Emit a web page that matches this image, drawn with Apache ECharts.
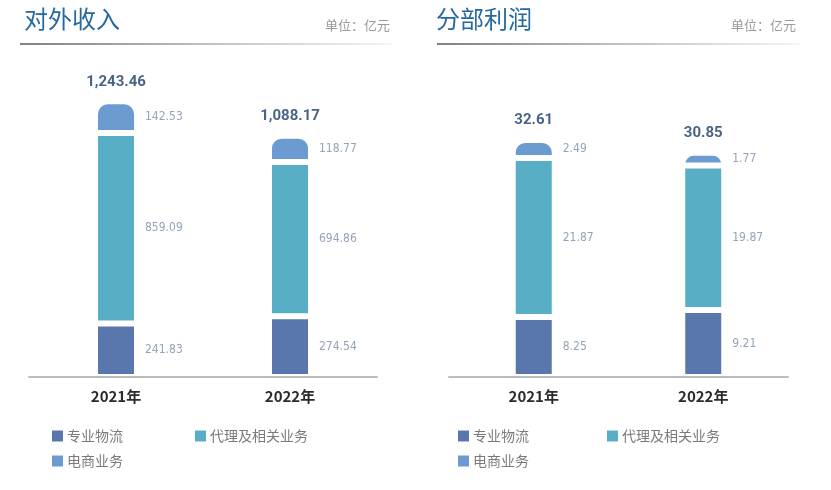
<!DOCTYPE html>
<html><head><meta charset="utf-8">
<script src="https://cdn.jsdelivr.net/npm/echarts@6/dist/echarts.min.js"></script>
<style>html,body{margin:0;padding:0;background:#fff}#c{width:831px;height:490px}</style>
</head><body><div id="c"></div>
<script>
const categories = ['2021年', '2022年'];
const seriesNames = ['专业物流', '代理及相关业务', '电商业务'];
// 对外收入 (亿元)
const revLogistics = [241.83, 274.54];
const revAgency = [859.09, 694.86];
const revEcom = [142.53, 118.77];
const revTotal = [1243.46, 1088.17];
// 分部利润 (亿元)
const profLogistics = [8.25, 9.21];
const profAgency = [21.87, 19.87];
const profEcom = [2.49, 1.77];
const profTotal = [32.61, 30.85];
const titles = ['对外收入', '分部利润'];
const unitText = '单位：亿元';

const colors = ['#5a77ad', '#58aec5', '#6c9bd1'];
const numFont = "'Liberation Sans Narrow','DejaVu Sans Condensed','Roboto',sans-serif";
const cjk = "'Noto Sans CJK SC','Noto Sans',sans-serif";

function fmt(v, d) {
  return v.toLocaleString('en-US', {minimumFractionDigits: d, maximumFractionDigits: d});
}

function barSeries(name, data, idx, stack, colorIdx, top) {
  return {
    type: 'bar', name: name, data: data, stack: stack,
    xAxisIndex: idx, yAxisIndex: idx, barWidth: 42,
    itemStyle: {color: colors[colorIdx], borderColor: '#fff', borderWidth: 3,
      borderRadius: top ? [11, 11, 0, 0] : 0},
    label: {show: true, position: 'right', distance: 8, color: '#93a4ba',
      fontFamily: numFont, fontSize: 12, fontWeight: 300, formatter: p => fmt(p.value, 2)},
    emphasis: {disabled: true}
  };
}
function totalSeries(data, idx) {
  return {
    type: 'scatter', data: data, xAxisIndex: idx, yAxisIndex: idx,
    symbolSize: 0, silent: true,
    label: {show: true, position: 'top', distance: 12, color: '#1c3c68',
      fontWeight: 'bold', fontSize: 15, fontFamily: "'Roboto','Noto Sans',sans-serif",
      formatter: p => fmt(p.value, 2)}
  };
}
function axisX(idx) {
  return {type: 'category', gridIndex: idx, data: categories, z: 10,
    axisLine: {lineStyle: {color: '#bdbdbd', width: 2}},
    axisTick: {show: false},
    axisLabel: {color: '#2b2b2b', fontWeight: 'bold', fontSize: 15, margin: 12,
      fontFamily: cjk}};
}
function axisY(idx, max) {
  return {type: 'value', gridIndex: idx, min: 0, max: max, show: false,
    splitLine: {show: false}};
}
function legendItem(name, left, top) {
  return {data: [name], left: left, top: top, padding: 0, icon: 'rect', itemWidth: 11, itemHeight: 11,
    itemGap: 6, itemStyle: {borderWidth: 0, borderRadius: 0},
    textStyle: {color: '#7a7a7a', fontSize: 14, fontFamily: cjk, padding: [0, 0, 0, -1]},
    selectedMode: false};
}
function underline(x1, x2) {
  return {type: 'line', shape: {x1: x1, y1: 44, x2: x2, y2: 44},
    style: {lineWidth: 1.5, stroke: new echarts.graphic.LinearGradient(0, 0, 1, 0,
      [{offset: 0, color: '#555'}, {offset: 0.5, color: '#aaa'}, {offset: 1, color: '#f2f2f2'}])}};
}

const chart = echarts.init(document.getElementById('c'), null, {renderer: 'canvas'});
chart.setOption({
  animation: false,
  backgroundColor: '#fff',
  title: [
    {text: titles[0], left: 24, top: 7, padding: 0, textStyle: {color: '#2569a0', fontSize: 24, fontWeight: 'normal', fontFamily: cjk}},
    {text: unitText, right: 441, top: 19, padding: 0, textStyle: {color: '#9a9a9a', fontSize: 13, fontWeight: 'normal', fontFamily: cjk}},
    {text: titles[1], left: 436, top: 7, padding: 0, textStyle: {color: '#2569a0', fontSize: 24, fontWeight: 'normal', fontFamily: cjk}},
    {text: unitText, right: 35, top: 19, padding: 0, textStyle: {color: '#9a9a9a', fontSize: 13, fontWeight: 'normal', fontFamily: cjk}}
  ],
  graphic: [underline(20, 392), underline(437, 800)],
  legend: [
    legendItem(seriesNames[0], 52, 429),
    legendItem(seriesNames[1], 195, 429),
    legendItem(seriesNames[2], 52, 454),
    legendItem(seriesNames[0], 458, 429),
    legendItem(seriesNames[1], 607, 429),
    legendItem(seriesNames[2], 458, 454)
  ],
  grid: [
    {left: 29, right: 831 - 377, top: 60, bottom: 113},
    {left: 449, right: 831 - 788, top: 60, bottom: 113}
  ],
  xAxis: [axisX(0), axisX(1)],
  yAxis: [axisY(0, 1430), axisY(1, 43.6)],
  series: [
    barSeries(seriesNames[0], revLogistics, 0, 'a', 0, false),
    barSeries(seriesNames[1], revAgency, 0, 'a', 1, false),
    barSeries(seriesNames[2], revEcom, 0, 'a', 2, true),
    totalSeries(revTotal, 0),
    barSeries(seriesNames[0], profLogistics, 1, 'b', 0, false),
    barSeries(seriesNames[1], profAgency, 1, 'b', 1, false),
    barSeries(seriesNames[2], profEcom, 1, 'b', 2, true),
    totalSeries(profTotal, 1)
  ]
});
</script></body></html>
